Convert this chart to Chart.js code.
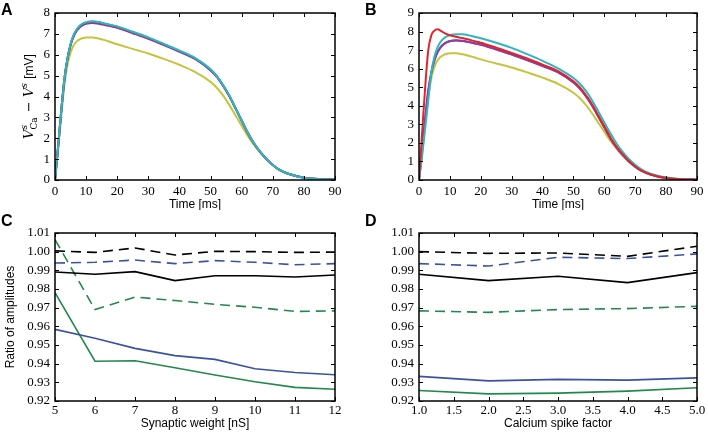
<!DOCTYPE html>
<html lang="en">
<head>
  <meta charset="UTF-8">
  <title>amplitudes</title>
  <script src="https://cdn.jsdelivr.net/npm/chart.js"></script>
  <style>
    body{margin:0;background:#fff;}
    .panel{position:absolute;}
  </style>
</head>
<body>
  <canvas id="panelA" class="panel" width="354" height="210" style="left:0;top:0"></canvas>
  <canvas id="panelB" class="panel" width="354" height="210" style="left:354px;top:0"></canvas>
  <canvas id="panelC" class="panel" width="354" height="222" style="left:0;top:210px"></canvas>
  <canvas id="panelD" class="panel" width="354" height="222" style="left:354px;top:210px"></canvas>
  <script>
    // time axis shared by the voltage traces (A, B)
    const timeMs = [0,1,2,3,4,5,6,7,8,9,10,12,14,16,18,20,25,30,35,40,45,50,52,54,56,58,60,62,64,66,68,70,72,75,80,85,90];

    // panel A
    const aRed    = [0,1.6,3.3,4.8,5.8,6.47,6.91,7.18,7.36,7.46,7.52,7.56,7.53,7.46,7.39,7.32,7.06,6.79,6.49,6.17,5.82,5.27,4.96,4.53,4.03,3.44,2.84,2.24,1.74,1.34,1.0,0.72,0.5,0.3,0.11,0.04,0.02];
    const aPurple = [0,1.6,3.3,4.8,5.8,6.45,6.88,7.15,7.32,7.42,7.48,7.52,7.49,7.43,7.36,7.29,7.03,6.76,6.46,6.14,5.8,5.25,4.94,4.52,4.02,3.43,2.83,2.24,1.74,1.34,1.0,0.72,0.5,0.3,0.11,0.04,0.02];
    const aBlue   = [0,1.6,3.3,4.8,5.8,6.49,6.93,7.2,7.38,7.48,7.54,7.58,7.55,7.48,7.41,7.34,7.08,6.81,6.5,6.18,5.83,5.28,4.97,4.54,4.04,3.45,2.85,2.25,1.75,1.35,1.0,0.72,0.5,0.3,0.11,0.04,0.02];
    const aCyan   = [0,1.6,3.3,4.8,5.8,6.5,6.95,7.22,7.4,7.5,7.56,7.6,7.57,7.5,7.43,7.36,7.1,6.83,6.52,6.2,5.85,5.3,4.98,4.55,4.05,3.45,2.85,2.25,1.75,1.35,1.0,0.72,0.5,0.3,0.11,0.04,0.02];
    const aYellow = [0,1.4,3.0,4.5,5.5,6.1,6.45,6.64,6.74,6.8,6.83,6.83,6.78,6.7,6.6,6.5,6.28,6.06,5.8,5.52,5.18,4.7,4.42,4.05,3.6,3.1,2.6,2.1,1.68,1.3,0.98,0.72,0.5,0.3,0.11,0.04,0.02];

    // panel B
    const bRed    = [0,2.5,5.0,7.0,7.8,8.05,8.12,8.05,7.94,7.86,7.8,7.72,7.65,7.57,7.48,7.4,7.13,6.85,6.55,6.22,5.87,5.32,5.0,4.58,4.08,3.48,2.88,2.28,1.78,1.37,1.01,0.73,0.51,0.3,0.11,0.04,0.02];
    const bPurple = [0,1.6,3.3,4.8,5.8,6.45,6.88,7.15,7.32,7.42,7.48,7.52,7.49,7.43,7.36,7.29,7.03,6.76,6.46,6.14,5.8,5.25,4.94,4.52,4.02,3.43,2.83,2.24,1.74,1.34,1.0,0.72,0.5,0.3,0.11,0.04,0.02];
    const bBlue   = [0,1.6,3.3,4.8,5.8,6.46,6.89,7.16,7.33,7.43,7.49,7.53,7.5,7.44,7.37,7.3,7.04,6.77,6.47,6.15,5.81,5.26,4.95,4.53,4.03,3.44,2.84,2.24,1.74,1.34,1.0,0.72,0.5,0.3,0.11,0.04,0.02];
    const bCyan   = [0,1.3,2.8,4.3,5.8,6.65,7.15,7.45,7.63,7.74,7.8,7.86,7.85,7.8,7.72,7.64,7.4,7.12,6.78,6.42,6.02,5.5,5.2,4.8,4.3,3.7,3.1,2.5,1.95,1.5,1.12,0.82,0.58,0.34,0.13,0.05,0.02];
    const bYellow = [0,1.4,3.0,4.5,5.5,6.1,6.45,6.64,6.74,6.8,6.83,6.83,6.78,6.7,6.6,6.5,6.28,6.06,5.8,5.52,5.18,4.7,4.42,4.05,3.6,3.1,2.6,2.1,1.68,1.3,0.98,0.72,0.5,0.3,0.11,0.04,0.02];

    // panel C
    const weights     = [5,6,7,8,9,10,11,12];
    const cBlackDash  = [1.0004,0.9996,1.002,0.9982,1.0002,1.0,0.9996,0.9998];
    const cBlueDash   = [0.9939,0.9943,0.9955,0.9936,0.9952,0.9943,0.993,0.9936];
    const cBlackSolid = [0.9891,0.9879,0.9893,0.9845,0.9871,0.9871,0.9864,0.9875];
    const cGreenDash  = [1.0065,0.969,0.9757,0.9738,0.9718,0.9702,0.968,0.9683];
    const cBlueSolid  = [0.9584,0.9536,0.9482,0.9443,0.9423,0.9373,0.9353,0.9341];
    const cGreenSolid = [0.978,0.9413,0.9416,0.9378,0.9339,0.9303,0.9273,0.9263];

    // panel D
    const factors     = [1,2,3,4,5];
    const dBlackDash  = [1.0,0.9991,0.9993,0.9975,1.0029];
    const dBlueDash   = [0.9936,0.9923,0.997,0.9963,0.9988];
    const dBlackSolid = [0.9879,0.9845,0.9868,0.9834,0.9888];
    const dGreenDash  = [0.9683,0.9675,0.969,0.9695,0.9707];
    const dBlueSolid  = [0.9332,0.9308,0.9316,0.9312,0.9324];
    const dGreenSolid = [0.9256,0.9238,0.9242,0.9253,0.9271];

    const RED='#e2232a', PURPLE='#98399c', BLUE_T='#4a5cc4', CYAN='#2cb6c0', YELLOW='#c6c43c';
    const BLACK='#000000', BLUE='#3a52a2', GREEN='#22894a';
    const tickFont = {family:'"Liberation Serif"', size:13};

    function pts(xs, ys){ return xs.map((v,i)=>({x:v,y:ys[i]})); }
    function trace(xs, ys, color){
      return {data:pts(xs,ys), borderColor:color, borderWidth:2, pointRadius:0, cubicInterpolationMode:'monotone'};
    }
    function ratio(xs, ys, color, dashed){
      return {data:pts(xs,ys), borderColor:color, borderWidth:1.6, pointRadius:0, tension:0, borderDash: dashed ? [10,6] : []};
    }

    // frame, inward ticks, panel letter and axis titles (matplotlib look)
    const decor = {
      id:'decor',
      afterDraw(chart, args, o){
        const {ctx, chartArea:a, scales:{x,y}} = chart;
        ctx.save();
        ctx.strokeStyle='#000'; ctx.lineWidth=1;
        ctx.beginPath();
        x.ticks.forEach(t=>{
          const p=Math.round(x.getPixelForValue(t.value))+0.5;
          ctx.moveTo(p,a.bottom); ctx.lineTo(p,a.bottom-4);
          ctx.moveTo(p,a.top); ctx.lineTo(p,a.top+4);
        });
        y.ticks.forEach(t=>{
          const p=Math.round(y.getPixelForValue(t.value))+0.5;
          ctx.moveTo(a.left,p); ctx.lineTo(a.left+4,p);
          ctx.moveTo(a.right,p); ctx.lineTo(a.right-4,p);
        });
        ctx.stroke();
        ctx.lineWidth=1.5;
        ctx.strokeRect(a.left,a.top,a.right-a.left,a.bottom-a.top);

        ctx.fillStyle='#000';
        ctx.font='bold 16px "Liberation Sans"';
        ctx.textBaseline='alphabetic'; ctx.textAlign='left';
        ctx.fillText(o.letter,o.lx,o.ly);

        ctx.font='12px "Liberation Sans"';
        ctx.textAlign='center'; ctx.textBaseline='middle';
        ctx.fillText(o.xTitle,(a.left+a.right)/2,o.xTitleY);

        if(o.yParts){
          ctx.translate(o.yTitleX,(a.top+a.bottom)/2);
          ctx.rotate(-Math.PI/2);
          ctx.textAlign='left'; ctx.textBaseline='alphabetic';
          let w=0;
          const widths=o.yParts.map(p=>{
            let pw=0;
            if(p.t){ ctx.font=p.f; pw=ctx.measureText(p.t).width; }
            else { ctx.font=p.f; pw=Math.max(ctx.measureText(p.sup||'').width, ctx.measureText(p.sub||'').width)+1; }
            w+=pw; return pw;
          });
          let cx=-w/2;
          o.yParts.forEach((p,i)=>{
            ctx.font=p.f;
            if(p.t){ ctx.fillText(p.t,cx,4); }
            else {
              if(p.sup) ctx.fillText(p.sup,cx,-2);
              if(p.subF){ ctx.font=p.subF; }
              if(p.sub) ctx.fillText(p.sub,cx,8);
            }
            cx+=widths[i];
          });
        }
        ctx.restore();
      }
    };

    function makePanel(id, datasets, xs, ys, deco){
      return new Chart(document.getElementById(id), {
        type:'line',
        data:{datasets},
        options:{
          responsive:false, animation:false, devicePixelRatio:1,
          layout:{padding:{top:deco.padTop, right:deco.padRight, left:0, bottom:0}},
          plugins:{legend:{display:false}, tooltip:{enabled:false}, decor:deco},
          scales:{
            x:{type:'linear', min:xs.min, max:xs.max,
               grid:{display:false, drawTicks:false}, border:{display:false},
               ticks:{stepSize:xs.step, autoSkip:false, maxRotation:0, padding:deco.xPad, color:'#000', font:tickFont, callback:xs.fmt},
               afterFit(s){ s.height=deco.xAxisH; }},
            y:{type:'linear', min:ys.min, max:ys.max,
               grid:{display:false, drawTicks:false}, border:{display:false},
               ticks:{stepSize:ys.step, autoSkip:false, padding:5, color:'#000', font:tickFont, callback:ys.fmt},
               afterFit(s){ s.width=deco.yAxisW; }}
          }
        },
        plugins:[decor]
      });
    }

    const serifI='italic 13px "DejaVu Serif"', serif='13px "DejaVu Serif"', small='italic 9px "DejaVu Serif"', smallUp='9px "DejaVu Serif"';
    const voltTitle=[{t:'V',f:serifI},{sup:'s',sub:'Ca',f:small,subF:smallUp},{t:' \u2212 ',f:serif},{t:'V',f:serifI},{sup:'s',f:small},{t:' [mV]',f:'12px "Liberation Sans"'}];
    const intFmt = v => String(Math.round(v));

    makePanel('panelA', [
      trace(timeMs,aCyan,CYAN), trace(timeMs,aBlue,BLUE_T), trace(timeMs,aRed,RED),
      trace(timeMs,aPurple,PURPLE), trace(timeMs,aYellow,YELLOW)
    ], {min:0,max:90,step:10,fmt:intFmt}, {min:0,max:8,step:1,fmt:intFmt},
    {letter:'A', lx:1, ly:15, padTop:13, padRight:19, yAxisW:55, xAxisH:30, xPad:4, xTitle:'Time [ms]', xTitleY:205, yParts:voltTitle, yTitleX:29});

    makePanel('panelB', [
      trace(timeMs,bRed,RED), trace(timeMs,bCyan,CYAN), trace(timeMs,bPurple,PURPLE),
      trace(timeMs,bBlue,BLUE_T), trace(timeMs,bYellow,YELLOW)
    ], {min:0,max:90,step:10,fmt:intFmt}, {min:0,max:9,step:1,fmt:intFmt},
    {letter:'B', lx:11, ly:15, padTop:13, padRight:11, yAxisW:65, xAxisH:30, xPad:4, xTitle:'Time [ms]', xTitleY:205});

    makePanel('panelC', [
      ratio(weights,cBlackDash,BLACK,true), ratio(weights,cBlueDash,BLUE,true), ratio(weights,cBlackSolid,BLACK,false),
      ratio(weights,cGreenDash,GREEN,true), ratio(weights,cBlueSolid,BLUE,false), ratio(weights,cGreenSolid,GREEN,false)
    ], {min:5,max:12,step:1,fmt:intFmt}, {min:0.92,max:1.01,step:0.01,fmt:v=>v.toFixed(2)},
    {letter:'C', lx:1, ly:16, padTop:23, padRight:19, yAxisW:55, xAxisH:31, xPad:2, xTitle:'Synaptic weight [nS]', xTitleY:214,
     yParts:[{t:'Ratio of amplitudes',f:'12px "Liberation Sans"'}], yTitleX:10});

    makePanel('panelD', [
      ratio(factors,dBlackDash,BLACK,true), ratio(factors,dBlueDash,BLUE,true), ratio(factors,dBlackSolid,BLACK,false),
      ratio(factors,dGreenDash,GREEN,true), ratio(factors,dBlueSolid,BLUE,false), ratio(factors,dGreenSolid,GREEN,false)
    ], {min:1,max:5,step:0.5,fmt:v=>v.toFixed(1)}, {min:0.92,max:1.01,step:0.01,fmt:v=>v.toFixed(2)},
    {letter:'D', lx:11, ly:16, padTop:23, padRight:11, yAxisW:65, xAxisH:31, xPad:2, xTitle:'Calcium spike factor', xTitleY:214});
  </script>
</body>
</html>
